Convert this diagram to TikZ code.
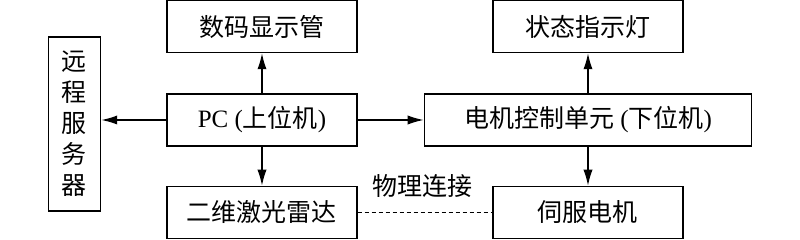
\documentclass[tikz,border=0pt]{standalone}
\usepackage{fontspec}
\setmainfont{Liberation Serif}
\newfontfamily\cjk{Noto Sans CJK SC}
\usetikzlibrary{arrows.meta,positioning}
\tikzset{
  >={Latex[length=8pt,width=4.6pt]},
  font=\fontsize{12.5pt}{15.5pt}\selectfont,
  blk/.style={draw,line width=0.75pt,minimum width=95pt,minimum height=26pt,
              inner sep=2pt,align=center},
  tallblk/.style={blk,minimum width=26pt,minimum height=87pt,
                  font=\fontsize{12.5pt}{15.5pt}\selectfont\cjk},
  link/.style={->,line width=0.75pt},
  wire/.style={line width=0.7pt,dash pattern=on 2pt off 1.5pt},
}

\begin{document}
\begin{tikzpicture}[node distance=20pt and 33pt]
  \useasboundingbox (-131pt,-60pt) rectangle (269pt,60pt);
  \node[blk] (pc) {PC ({\cjk 上位机})};
  \node[blk,above=of pc] (disp) {\cjk 数码显示管};
  \node[blk,below=19.5pt of pc] (lidar) {\cjk 二维激光雷达};
  \node[blk,minimum width=163.5pt,right=of pc] (ctrl) {{\cjk 电机控制单元} ({\cjk 下位机})};
  \node[blk,above=of ctrl] (lamp) {\cjk 状态指示灯};
  \node[blk,below=19.5pt of ctrl] (servo) {\cjk 伺服电机};
  \node[tallblk,left=32.5pt of pc,yshift=-2pt] (remote) {远\\程\\服\\务\\器};

  \draw[link] (pc) -- (disp);
  \draw[link] (pc) -- (lidar);
  \draw[link] (pc.west) -- (pc.west -| remote.east);
  \draw[link] (pc) -- (ctrl);
  \draw[link] (ctrl) -- (lamp);
  \draw[link] (ctrl) -- (servo);
  \draw[wire] (lidar) -- node[above=4pt,xshift=-1pt]{\cjk 物理连接} (servo);
\end{tikzpicture}
\end{document}
